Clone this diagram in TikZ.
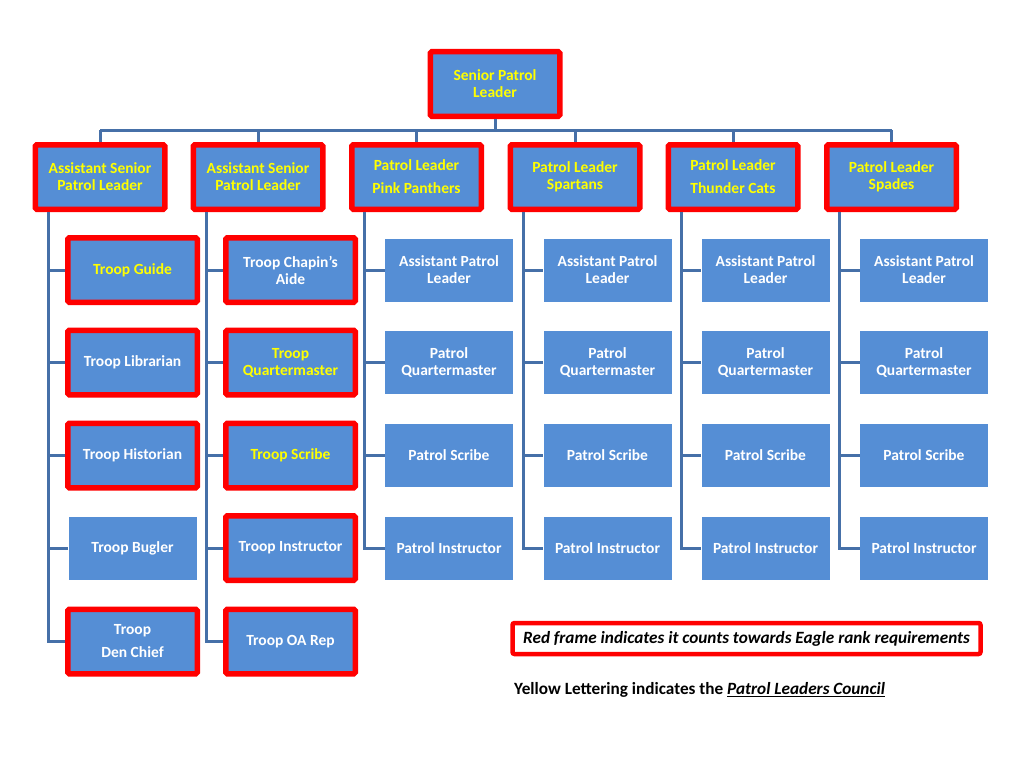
\documentclass[tikz,border=0pt]{standalone}
\usepackage{fontspec}
\setmainfont{Carlito}
\definecolor{boxblue}{RGB}{85,142,213}
\definecolor{lineblue}{RGB}{70,112,168}
\definecolor{frame}{RGB}{255,0,0}
\definecolor{yel}{RGB}{255,255,0}
\tikzset{
  x=1pt,y=-1pt,
  box/.style={fill=boxblue,draw=none,minimum width=128pt,minimum height=63pt,inner sep=0pt,
    align=center,text=white,font=\fontsize{15.5}{17}\selectfont\bfseries},
  redbox/.style={box,draw=frame,line width=5.5pt,minimum width=129.5pt,minimum height=64.5pt,rounded corners=1.5pt},
  yeltext/.style={text=yel},
  conn/.style={draw=lineblue,line width=3pt},
}
\begin{document}
\begin{tikzpicture}
\useasboundingbox (0,0) rectangle (1024,768);
\fill[white] (0,0) rectangle (1024,768);
% top
\node[redbox,yeltext] (spl) at (495,84) {Senior Patrol\\Leader};
% second row
\node[redbox,yeltext] (p1) at (100,177) {Assistant Senior\\Patrol Leader};
\node[redbox,yeltext] (p2) at (258,177) {Assistant Senior\\Patrol Leader};
\node[redbox,yeltext] (p3) at (416.5,177) {Patrol Leader\\[6pt]Pink Panthers};
\node[redbox,yeltext] (p4) at (575,177) {Patrol Leader\\Spartans};
\node[redbox,yeltext] (p5) at (733,177) {Patrol Leader\\[6pt]Thunder Cats};
\node[redbox,yeltext] (p6) at (891.5,177) {Patrol Leader\\Spades};
% bus
\coordinate (bus) at (495,130);
\draw[conn] (spl.south) -- (bus);
\draw[conn] (p1.north |- bus) -- (p6.north |- bus);
\foreach \p in {p1,p2,p3,p4,p5,p6} {\draw[conn] (\p.north |- bus) -- (\p.north);}
% column 1
\node[redbox,yeltext] (c11) at (132.5,270) {Troop Guide};
\node[redbox] (c12) at (132.5,362.5) {Troop Librarian};
\node[redbox] (c13) at (132.5,455.5) {Troop Historian};
\node[box] (c14) at (132.5,548) {Troop Bugler};
\node[redbox] (c15) at (132.5,641.5) {Troop\\[6pt]Den Chief};
% column 2
\node[redbox] (c21) at (290.5,270) {Troop Chapin’s\\Aide};
\node[redbox,yeltext] (c22) at (290.5,362.5) {Troop\\Quartermaster};
\node[redbox,yeltext] (c23) at (290.5,455.5) {Troop Scribe};
\node[redbox] (c24) at (290.5,548) {Troop Instructor};
\node[redbox] (c25) at (290.5,641.5) {Troop OA Rep};
% patrol columns
\foreach \i/\x in {3/449,4/607.5,5/765.5,6/924} {
  \node[box] (c\i1) at (\x,270) {Assistant Patrol\\Leader};
  \node[box] (c\i2) at (\x,362.5) {Patrol\\Quartermaster};
  \node[box] (c\i3) at (\x,455.5) {Patrol Scribe};
  \node[box] (c\i4) at (\x,548) {Patrol Instructor};
}
% connectors
\foreach \i/\n in {1/5,2/5,3/4,4/4,5/4,6/4} {
  \coordinate (v\i) at ([xshift=-52pt]p\i.south);
  \draw[conn] (v\i) |- (c\i\n.west);
  \foreach \k in {1,...,\n} {\draw[conn] (v\i |- c\i\k.west) -- (c\i\k.west);}
}
% legend
\node[draw=frame,line width=4.5pt,rounded corners=2pt,fill=white,minimum width=468pt,minimum height=31pt,
  inner sep=0pt,font=\fontsize{17.2}{19}\selectfont\bfseries\itshape] (leg) at (746.5,638.5)
  {Red frame indicates it counts towards Eagle rank requirements};
\node[anchor=west,inner sep=0pt,font=\fontsize{17.2}{19}\selectfont\bfseries] (yl) at (514,690)
  {Yellow Lettering indicates the \underline{\itshape Patrol Leaders Council}};
\end{tikzpicture}
\end{document}
